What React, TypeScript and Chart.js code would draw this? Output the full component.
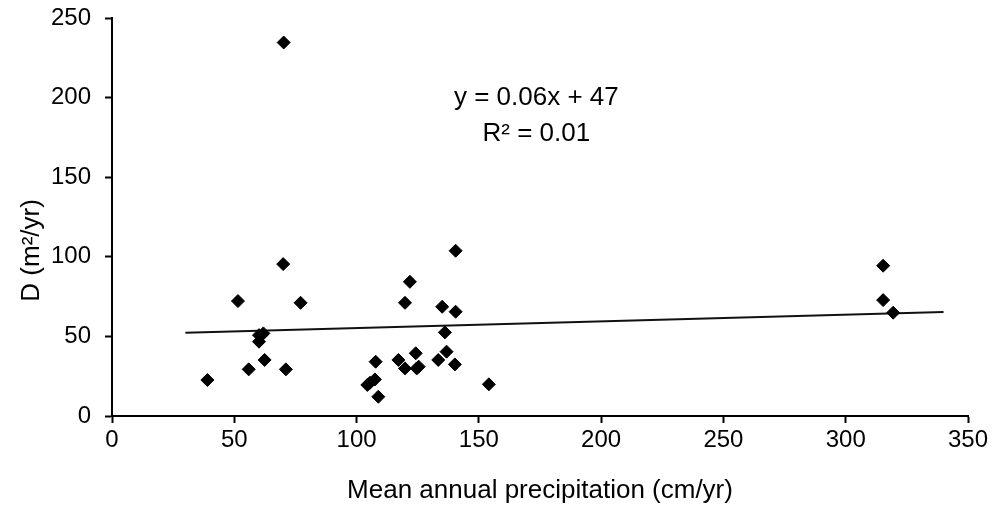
import React, { useEffect, useRef } from "react";
import { Chart, registerables } from "chart.js";

Chart.register(...registerables);

// Observed points: mean annual precipitation (cm/yr) vs D (m²/yr)
const precipX = [70.2, 70.0, 51.5, 77.1, 60.1, 61.9, 60.1, 62.4, 55.9, 71.1, 39.0, 140.5, 121.8, 119.8, 135.0, 140.5, 136.1, 136.8, 133.4, 140.2, 124.2, 117.1, 119.8, 124.6, 125.4, 107.8, 107.5, 104.4, 105.5, 108.9, 154.1, 315.3, 315.3, 319.4];
const diffusivityY = [234.6, 95.4, 72.2, 71.1, 50.8, 51.9, 46.7, 35.2, 29.3, 29.3, 22.6, 103.8, 84.3, 71.1, 68.6, 65.5, 52.5, 40.4, 35.2, 32.4, 39.4, 35.2, 29.9, 29.9, 31.0, 34.1, 23.0, 19.5, 20.9, 12.1, 19.9, 94.4, 72.8, 64.9];

// Trend line end points as drawn
const trendX = [30, 340];
const trendY = [52.3, 65.3];

// Annotation
const equationLines = ["y = 0.06x + 47", "R² = 0.01"];
const equationAnchorX = 173.5;
const equationAnchorY = [200, 177.5];

const xTitle = "Mean annual precipitation (cm/yr)";
const yTitle = "D (m²/yr)";
const yTitleCenterValue = 104;

const FONT = "Arial, 'Liberation Sans', sans-serif";

export default function App() {
  const canvasRef = useRef<HTMLCanvasElement | null>(null);

  useEffect(() => {
    const canvas = canvasRef.current;
    if (!canvas) return;

    const textPlugin = {
      id: "texts",
      afterDatasetsDraw(chart: any) {
        const ctx = chart.ctx;
        const xs = chart.scales.x;
        const ys = chart.scales.y;
        ctx.save();
        ctx.fillStyle = "#000";
        ctx.font = `26px ${FONT}`;
        ctx.textAlign = "center";
        ctx.textBaseline = "middle";
        equationLines.forEach((t, i) => {
          ctx.fillText(t, xs.getPixelForValue(equationAnchorX), ys.getPixelForValue(equationAnchorY[i]));
        });
        ctx.restore();

        // y axis title
        ctx.save();
        ctx.fillStyle = "#000";
        ctx.font = `26px ${FONT}`;
        ctx.textAlign = "center";
        ctx.textBaseline = "middle";
        ctx.translate(32, ys.getPixelForValue(yTitleCenterValue));
        ctx.rotate(-Math.PI / 2);
        ctx.fillText(yTitle, 0, 0);
        ctx.restore();
      },
    };

    const chart = new Chart(canvas, {
      type: "scatter",
      data: {
        datasets: [
          {
            label: "Data",
            data: precipX.map((x, i) => ({ x, y: diffusivityY[i] })),
            pointStyle: "rectRot",
            pointRadius: 6.5,
            backgroundColor: "#000",
            borderColor: "#000",
            borderWidth: 1,
          },
          {
            type: "line",
            label: "Trend",
            data: trendX.map((x, i) => ({ x, y: trendY[i] })),
            borderColor: "#111",
            borderWidth: 2,
            pointRadius: 0,
            fill: false,
          } as any,
        ],
      },
      options: {
        animation: false,
        responsive: false,
        maintainAspectRatio: false,
        layout: { padding: { left: 0, right: 24, top: 18, bottom: 0 } },
        plugins: {
          legend: { display: false },
          tooltip: { enabled: false },
        },
        scales: {
          x: {
            type: "linear",
            min: 0,
            max: 350,
            afterFit(scale: any) {
              scale.height = 99;
              scale.paddingLeft = 0;
              scale.paddingRight = 0;
            },
            ticks: {
              stepSize: 50,
              color: "#000",
              font: { size: 24, family: FONT },
              padding: 3,
              maxRotation: 0,
            },
            grid: {
              display: true,
              drawOnChartArea: false,
              drawTicks: true,
              tickLength: 7,
              tickColor: "#000",
              tickWidth: 2,
            },
            border: { display: true, color: "#000", width: 2 },
            title: {
              display: true,
              text: xTitle,
              color: "#000",
              font: { size: 26, family: FONT },
              padding: { top: 0, bottom: 9 },
            },
          },
          y: {
            type: "linear",
            min: 0,
            max: 250,
            afterFit(scale: any) {
              scale.width = 112;
              scale.paddingTop = 0;
              scale.paddingBottom = 0;
            },
            ticks: {
              stepSize: 50,
              color: "#000",
              font: { size: 24, family: FONT },
              padding: 14,
            },
            grid: {
              display: true,
              drawOnChartArea: false,
              drawTicks: true,
              tickLength: 7,
              tickColor: "#000",
              tickWidth: 2,
            },
            border: { display: true, color: "#000", width: 2 },
          },
        },
      },
      plugins: [textPlugin],
    });

    return () => chart.destroy();
  }, []);

  return (
    <div style={{ position: "fixed", left: 0, top: 0, width: 992, height: 515, background: "#fff" }}>
      <canvas ref={canvasRef} width={992} height={515} style={{ width: 992, height: 515 }} />
    </div>
  );
}
